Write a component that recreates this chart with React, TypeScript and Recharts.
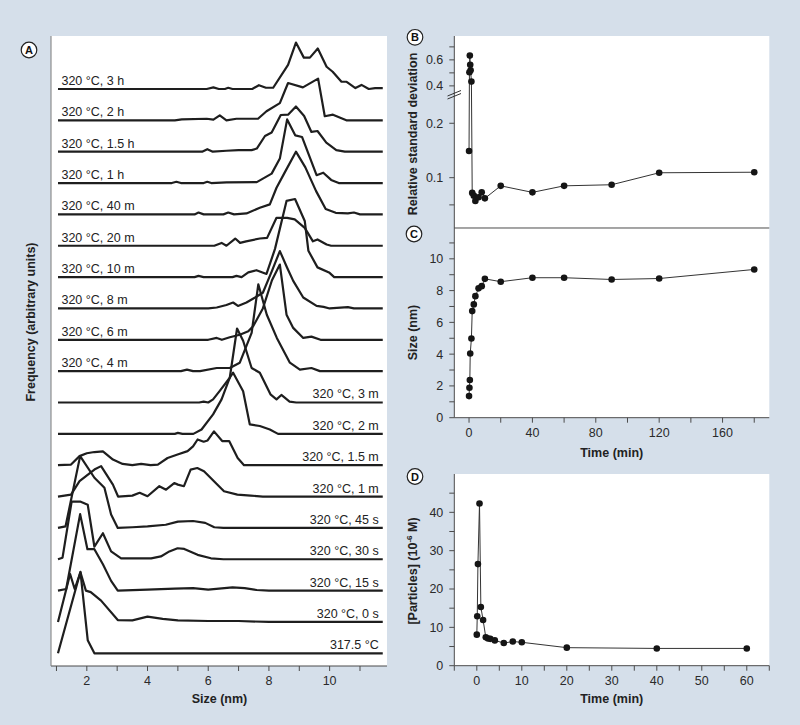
import React from 'react';
import { LineChart, Line, XAxis, YAxis, CartesianGrid } from 'recharts';

const FONT = '"Liberation Sans", Arial, Helvetica, sans-serif';
const BG = '#d5dfea';
const INK = '#1e1e1e';
const AXIS = '#4a4a4a';

// ---------------- Panel A : size distributions ----------------
const labelsA = [
  '317.5 °C', '320 °C, 0 s', '320 °C, 15 s', '320 °C, 30 s', '320 °C, 45 s',
  '320 °C, 1 m', '320 °C, 1.5 m', '320 °C, 2 m', '320 °C, 3 m', '320 °C, 4 m',
  '320 °C, 6 m', '320 °C, 8 m', '320 °C, 10 m', '320 °C, 20 m', '320 °C, 40 m',
  '320 °C, 1 h', '320 °C, 1.5 h', '320 °C, 2 h', '320 °C, 3 h',
];

// [size (nm), frequency (arb.)]
const d3175: number[][] = [[1.05, 0], [1.79, 2.6], [2.03, 0.42], [2.25, 0], [11.75, 0]];
const d0s: number[][] = [[1.05, 0], [1.45, 1.53], [1.6, 1.05], [1.79, 1.58], [1.97, 1.0], [2.13, 0.95], [2.47, 0.68], [3.02, 0.06], [3.5, 0.05], [4.0, 0.17], [4.5, 0.1], [5.0, 0.05], [6.0, 0.03], [7.0, 0.03], [8.0, 0], [11.75, 0]];
const d15s: number[][] = [[1.05, 0], [1.32, 0.05], [1.78, 2.44], [2.02, 1.32], [2.25, 1.32], [2.53, 0.84], [2.8, 0.31], [3.02, 0], [4.0, 0.03], [4.9, 0.06], [5.5, 0.08], [6.0, 0.03], [6.8, 0.1], [7.2, 0.08], [7.6, 0.02], [8.0, 0], [11.75, 0]];
const d30s: number[][] = [[1.05, 0], [1.2, 0.05], [1.5, 1.84], [1.78, 1.84], [2.03, 1.74], [2.25, 0.4], [2.53, 0.83], [2.8, 0.25], [3.13, 0.03], [4.12, 0.03], [4.44, 0.09], [4.72, 0.25], [4.99, 0.35], [5.21, 0.33], [5.65, 0.14], [6.09, 0.03], [6.5, 0], [11.75, 0]];
const d45s: number[][] = [[1.05, 0], [1.3, 0.05], [1.78, 2.29], [2.25, 1.6], [2.58, 1.28], [2.8, 0.43], [3.02, 0], [3.5, 0.02], [4.0, 0.05], [4.6, 0.1], [5.0, 0.2], [5.5, 0.22], [5.9, 0.16], [6.2, 0.02], [6.5, 0], [11.75, 0]];
const d1m: number[][] = [[1.05, 0], [1.48, 0.06], [1.76, 0.49], [2.25, 0.86], [2.47, 0.97], [2.86, 0.38], [3.03, 0], [3.5, 0.03], [3.74, 0.12], [4.0, 0.01], [4.39, 0.33], [4.61, 0.22], [4.88, 0.43], [5.0, 0.38], [5.2, 0.33], [5.42, 0.86], [5.64, 0.91], [5.86, 0.81], [6.19, 0.49], [6.52, 0.17], [6.96, 0.06], [7.4, 0.03], [7.8, 0], [11.75, 0]];
const d15m: number[][] = [[1.05, 0], [1.48, 0.02], [1.76, 0.29], [2.0, 0.38], [2.25, 0.42], [2.53, 0.44], [2.86, 0.18], [3.18, 0.04], [3.5, 0], [3.79, 0.04], [4.1, 0], [4.34, 0.02], [4.66, 0.23], [4.99, 0.34], [5.32, 0.45], [5.5, 0.6], [5.65, 0.82], [5.85, 0.75], [5.98, 0.79], [6.19, 1.08], [6.46, 0.77], [6.69, 0.77], [6.97, 0.23], [7.18, 0], [11.75, 0]];
const d2m: number[][] = [[1.05, 0], [4.9, 0], [5.0, 0.03], [5.15, 0], [5.51, 0], [5.78, 0.14], [6.16, 0.62], [6.44, 1.1], [6.71, 1.79], [6.82, 1.95], [7.15, 1.36], [7.37, 0.3], [7.7, 0.25], [8.03, 0.14], [8.3, 0], [11.75, 0]];
const d3m: number[][] = [[1.05, 0], [5.7, 0], [5.85, 0.03], [6.0, 0], [6.16, 0.1], [6.38, 0.37], [6.71, 0.79], [6.95, 2.36], [7.15, 1.97], [7.43, 1.1], [7.7, 0.95], [8.05, 0.26], [8.25, 0.1], [8.41, 0.24], [8.68, 0.03], [8.9, 0], [11.75, 0]];
const d4m: number[][] = [[1.05, 0], [5.1, 0], [5.3, 0.05], [5.5, 0], [5.73, 0], [6.28, 0.1], [6.71, 0.1], [7.04, 0.27], [7.43, 1.22], [7.65, 2.77], [7.93, 1.8], [8.26, 1.06], [8.69, 0.27], [9.02, 0.05], [9.4, 0.1], [9.68, 0], [11.75, 0]];
const d6m: number[][] = [[1.05, 0], [6.0, 0], [6.28, 0.06], [6.45, 0], [6.71, 0.08], [7.04, 0.16], [7.32, 0.27], [7.48, 0.43], [7.8, 1.0], [8.1, 1.9], [8.36, 2.4], [8.58, 0.8], [8.8, 0.38], [9.13, 0.06], [9.4, 0.1], [9.7, 0], [11.75, 0]];
const d8m: number[][] = [[1.05, 0], [6.0, 0], [6.28, 0.03], [6.6, 0.11], [6.82, 0.19], [6.98, 0.08], [7.26, 0.19], [7.53, 0.34], [7.8, 0.5], [8.1, 1.2], [8.36, 1.83], [8.6, 1.3], [8.8, 0.88], [9.13, 0.35], [9.57, 0.08], [9.8, 0.05], [10.0, 0], [10.6, 0.04], [10.8, 0], [11.75, 0]];
const d10m: number[][] = [[1.05, 0], [5.55, 0], [5.68, 0.04], [5.85, 0], [6.8, 0], [6.93, 0.04], [7.1, 0], [7.32, 0.15], [7.59, 0.22], [7.92, 0.1], [8.2, 0.9], [8.58, 2.43], [8.86, 2.49], [9.18, 1.79], [9.3, 0.84], [9.6, 0.31], [9.98, 0.15], [10.15, 0], [11.75, 0]];
const d20m: number[][] = [[1.05, 0], [6.2, 0], [6.44, 0.09], [6.6, 0], [6.89, 0.23], [7.05, 0.09], [7.25, 0.14], [7.7, 0.23], [7.94, 0.25], [8.25, 0.89], [8.6, 0.89], [8.85, 0.84], [9.18, 0.57], [9.45, 0.14], [9.6, 0.2], [9.9, 0.04], [10.05, 0], [11.75, 0]];
const d40m: number[][] = [[1.05, 0], [5.55, 0], [5.68, 0.06], [5.85, 0], [6.5, 0], [6.66, 0.06], [6.85, 0], [7.26, 0.03], [7.7, 0.21], [8.03, 0.32], [8.25, 0.85], [8.5, 1.3], [8.89, 2.0], [9.2, 1.5], [9.55, 0.75], [9.87, 0.17], [10.2, 0.05], [10.6, 0.03], [10.8, 0.06], [11.0, 0], [11.75, 0]];
const d1h: number[][] = [[1.05, 0], [4.8, 0], [4.95, 0.04], [5.1, 0], [5.85, 0], [5.97, 0.04], [6.1, 0], [6.6, 0.02], [7.6, 0.03], [8.09, 0.3], [8.36, 0.78], [8.6, 2.03], [8.87, 1.52], [9.09, 1.47], [9.57, 0.25], [9.79, 0.33], [10.05, 0.1], [10.3, 0], [11.75, 0]];
const d15h: number[][] = [[1.05, 0], [5.8, 0], [5.97, 0.08], [6.15, 0], [6.6, 0.03], [7.0, 0.05], [7.43, 0.05], [7.6, 0.1], [7.87, 0.5], [8.09, 0.61], [8.39, 1.17], [8.63, 1.18], [8.89, 1.44], [9.16, 1.14], [9.4, 0.63], [9.6, 0.66], [9.89, 0.29], [10.22, 0.05], [10.5, 0], [11.75, 0]];
const d2h: number[][] = [[1.05, 0], [4.9, 0], [5.13, 0.03], [5.95, 0.05], [6.17, 0.02], [6.38, 0.16], [6.6, 0], [6.93, 0.05], [7.64, 0.05], [7.92, 0.29], [8.36, 0.55], [8.63, 1.19], [9.12, 1.05], [9.62, 1.33], [9.84, 0.13], [10.11, 0.18], [10.55, 0], [11.75, 0]];
const d3h: number[][] = [[1.05, 0], [5.95, 0], [6.17, 0.05], [6.35, 0], [6.55, 0], [6.66, 0.04], [6.8, 0], [7.45, 0], [7.67, 0.12], [7.9, 0.04], [8.14, 0.04], [8.63, 0.77], [8.89, 1.48], [9.15, 1.0], [9.35, 1.0], [9.61, 1.29], [9.9, 0.71], [10.1, 0.55], [10.39, 0.23], [10.56, 0.23], [10.85, 0.03], [11.05, 0.13], [11.29, 0], [11.5, 0.03], [11.75, 0.03]];

const curvesA = [d3175, d0s, d15s, d30s, d45s, d1m, d15m, d2m, d3m, d4m, d6m, d8m, d10m, d20m, d40m, d1h, d15h, d2h, d3h];
const sizeTicks = [1, 2, 3, 4, 5, 6, 7, 8, 9, 10, 11];

// ---------------- Panel B : relative standard deviation ----------------
const rsdTimes = [0, 0.25, 0.5, 0.75, 1, 1.5, 2, 3, 4, 6, 8, 10, 20, 40, 60, 90, 120, 180];
const rsdValues = [0.149, 0.505, 0.633, 0.562, 0.52, 0.433, 0.072, 0.067, 0.057, 0.064, 0.073, 0.062, 0.085, 0.073, 0.085, 0.087, 0.109, 0.11];
const rsdTickValues = [0.05, 0.1, 0.2, 0.4, 0.5, 0.6, 0.7];
const rsdTickLabels = ['', '0.1', '0.2', '0.4', '', '0.6', ''];
const breakLow = 0.252;
const breakHigh = 0.33;
const upperScale = 130 / 544;
const squash = (v: number) => (v <= breakLow ? v : breakLow + (v - breakHigh) * upperScale);

// ---------------- Panel C : mean size ----------------
const sizeTimes = [0, 0.25, 0.5, 0.75, 1.5, 2, 3, 4, 6, 8, 10, 20, 40, 60, 90, 120, 180];
const sizeValues = [1.36, 1.88, 2.37, 4.04, 4.98, 6.71, 7.13, 7.65, 8.14, 8.28, 8.74, 8.56, 8.81, 8.81, 8.7, 8.76, 9.33];
const timeTicksLong = [0, 20, 40, 60, 80, 100, 120, 140, 160, 180];
const sizeAxisTicks = [0, 1, 2, 3, 4, 5, 6, 7, 8, 9, 10, 11];

// ---------------- Panel D : particle concentration ----------------
const concTimes = [0, 0.1, 0.25, 0.6, 0.9, 1.4, 2, 2.5, 3, 4, 6, 8, 10, 20, 40, 60];
const concValues = [8.1, 12.9, 26.5, 42.3, 15.3, 11.9, 7.4, 7.1, 7.0, 6.6, 5.9, 6.3, 6.1, 4.7, 4.5, 4.5];
const timeTicksShort = [-5, 0, 5, 10, 15, 20, 25, 30, 35, 40, 45, 50, 55, 60, 65];
const concAxisTicks = [0, 5, 10, 15, 20, 25, 30, 35, 40, 45];

const tickStyle = { fontSize: 12.5, fill: '#2a2a2a', fontFamily: FONT };

const makeCurveLabel = (text: string, side: 'left' | 'right', last: number) => (props: any) => {
  const { index } = props;
  const x = props.x ?? props.viewBox?.x;
  const y = props.y ?? props.viewBox?.y;
  if (side === 'left' && index !== 0) return null;
  if (side === 'right' && index !== last) return null;
  return (
    <text
      key={`lab-${text}`}
      x={side === 'left' ? x + 3.5 : x - 4}
      y={y - 4}
      textAnchor={side === 'left' ? 'start' : 'end'}
      fontSize={12.5}
      fontFamily={FONT}
      fill="#222"
    >
      {text}
    </text>
  );
};

const Circled = ({ cx, cy, letter }: { cx: number; cy: number; letter: string }) => (
  <g>
    <circle cx={cx} cy={cy} r={7.8} fill="#fff" stroke="#222" strokeWidth={1.2} />
    <text x={cx} y={cy + 4} textAnchor="middle" fontSize={11} fontWeight="bold" fontFamily={FONT} fill="#111">
      {letter}
    </text>
  </g>
);

const Title = ({ x, y, text, rotate }: { x: number; y: number; text: React.ReactNode; rotate?: boolean }) => (
  <text
    x={x}
    y={y}
    textAnchor="middle"
    dominantBaseline="central"
    fontSize={12.5}
    fontWeight="bold"
    fontFamily={FONT}
    fill="#222"
    transform={rotate ? `rotate(-90 ${x} ${y})` : undefined}
  >
    {text}
  </text>
);

export default function App() {
  const rsdData = rsdTimes.map((t, i) => ({ t, d: squash(rsdValues[i]) }));
  const sizeData = sizeTimes.map((t, i) => ({ t, s: sizeValues[i] }));
  const concData = concTimes.map((t, i) => ({ t, c: concValues[i] }));
  const rsdTicks = rsdTickValues.map(squash);

  return (
    <div
      style={{
        position: 'absolute',
        left: 0,
        top: 0,
        width: 800,
        height: 725,
        background: BG,
        overflow: 'hidden',
        fontFamily: FONT,
      }}
    >
      {/* Panel A */}
      <div style={{ position: 'absolute', left: 0, top: 0 }}>
        <LineChart width={400} height={725} margin={{ top: 36, right: 13, bottom: 29, left: 50 }}>
          <CartesianGrid fill="#fff" horizontal={false} vertical={false} />
          <XAxis
            type="number"
            dataKey="x"
            domain={[0.82, 11.89]}
            ticks={sizeTicks}
            allowDataOverflow
            height={30}
            tickSize={5}
            tickMargin={5}
            tickFormatter={(v: number) => (v % 2 === 0 ? String(v) : '')}
            axisLine={{ stroke: AXIS }}
            tickLine={{ stroke: AXIS }}
            tick={tickStyle}
          />
          <YAxis
            type="number"
            domain={[-0.405, 19.69]}
            allowDataOverflow
            width={1}
            tick={false}
            tickLine={false}
            axisLine={{ stroke: '#7a7a7a' }}
          />
          {curvesA.map((pts, i) => {
            const data = pts.map(([x, h]) => ({ x, y: i + h }));
            const side = i <= 8 ? 'right' : 'left';
            return (
              <Line
                key={labelsA[i]}
                data={data}
                dataKey="y"
                type="linear"
                stroke={INK}
                strokeWidth={2.2}
                strokeLinejoin="round"
                dot={false}
                activeDot={false}
                isAnimationActive={false}
                label={makeCurveLabel(labelsA[i], side, data.length - 1)}
              />
            );
          })}
        </LineChart>
      </div>

      {/* Panel B */}
      <div style={{ position: 'absolute', left: 400, top: 0 }}>
        <LineChart width={400} height={228} data={rsdData} margin={{ top: 36, right: 30.7, bottom: 0, left: 14.3 }}>
          <CartesianGrid fill="#fff" horizontal={false} vertical={false} />
          <XAxis type="number" dataKey="t" domain={[-9.3, 189.5]} hide allowDataOverflow />
          <YAxis
            type="number"
            domain={[0.0075, 0.3604]}
            allowDataOverflow
            ticks={rsdTicks}
            width={40}
            tickSize={5}
            tickMargin={6}
            tickFormatter={(v: number) => {
              const k = rsdTicks.findIndex((t) => Math.abs(t - v) < 1e-6);
              return k >= 0 ? rsdTickLabels[k] : '';
            }}
            axisLine={{ stroke: AXIS }}
            tickLine={{ stroke: AXIS }}
            tick={tickStyle}
          />
          <Line
            dataKey="d"
            type="linear"
            stroke="#333"
            strokeWidth={1}
            dot={{ r: 3.3, fill: '#151515', stroke: 'none' }}
            activeDot={false}
            isAnimationActive={false}
          />
        </LineChart>
      </div>

      {/* Panel C */}
      <div style={{ position: 'absolute', left: 400, top: 218 }}>
        <LineChart width={400} height={229.7} data={sizeData} margin={{ top: 0, right: 30.7, bottom: 0, left: 14.3 }}>
          <CartesianGrid fill="#fff" horizontal={false} vertical={false} />
          <XAxis
            xAxisId="top"
            orientation="top"
            type="number"
            dataKey="t"
            domain={[-9.3, 189.5]}
            allowDataOverflow
            ticks={timeTicksLong}
            height={10}
            tickSize={5}
            tick={false}
            axisLine={{ stroke: AXIS }}
            tickLine={{ stroke: AXIS }}
          />
          <XAxis
            xAxisId="bottom"
            orientation="bottom"
            type="number"
            dataKey="t"
            domain={[-9.3, 189.5]}
            allowDataOverflow
            ticks={timeTicksLong}
            height={30}
            tickSize={5}
            tickMargin={5}
            tickFormatter={(v: number) => (v % 40 === 0 ? String(v) : '')}
            axisLine={{ stroke: AXIS }}
            tickLine={{ stroke: AXIS }}
            tick={tickStyle}
          />
          <YAxis
            type="number"
            domain={[0, 11.94]}
            allowDataOverflow
            ticks={sizeAxisTicks}
            width={40}
            tickSize={5}
            tickMargin={6}
            tickFormatter={(v: number) => (v % 2 === 0 ? String(v) : '')}
            axisLine={{ stroke: AXIS }}
            tickLine={{ stroke: AXIS }}
            tick={tickStyle}
          />
          <Line
            xAxisId="bottom"
            dataKey="s"
            type="linear"
            stroke="#333"
            strokeWidth={1}
            dot={{ r: 3.3, fill: '#151515', stroke: 'none' }}
            activeDot={false}
            isAnimationActive={false}
          />
        </LineChart>
      </div>

      {/* Panel D */}
      <div style={{ position: 'absolute', left: 400, top: 464.3 }}>
        <LineChart width={400} height={231.7} data={concData} margin={{ top: 10, right: 30.7, bottom: 0, left: 14.3 }}>
          <CartesianGrid fill="#fff" horizontal={false} vertical={false} />
          <XAxis
            type="number"
            dataKey="t"
            domain={[-5, 65]}
            allowDataOverflow
            ticks={timeTicksShort}
            height={30}
            tickSize={5}
            tickMargin={5}
            tickFormatter={(v: number) => (v % 10 === 0 && v >= 0 && v <= 60 ? String(v) : '')}
            axisLine={{ stroke: AXIS }}
            tickLine={{ stroke: AXIS }}
            tick={tickStyle}
          />
          <YAxis
            type="number"
            domain={[0, 50]}
            allowDataOverflow
            ticks={concAxisTicks}
            width={40}
            tickSize={5}
            tickMargin={6}
            tickFormatter={(v: number) => (v % 10 === 0 ? String(v) : '')}
            axisLine={{ stroke: AXIS }}
            tickLine={{ stroke: AXIS }}
            tick={tickStyle}
          />
          <Line
            dataKey="c"
            type="linear"
            stroke="#333"
            strokeWidth={1}
            dot={{ r: 3.3, fill: '#151515', stroke: 'none' }}
            activeDot={false}
            isAnimationActive={false}
          />
        </LineChart>
      </div>

      {/* Overlay: panel letters, axis titles, axis break */}
      <svg width={800} height={725} style={{ position: 'absolute', left: 0, top: 0, pointerEvents: 'none' }}>
        <Circled cx={29} cy={50} letter="A" />
        <Circled cx={415} cy={37.3} letter="B" />
        <Circled cx={414} cy={234} letter="C" />
        <Circled cx={415} cy={476.5} letter="D" />

        <Title x={31} y={322} text="Frequency (arbitrary units)" rotate />
        <Title x={219.5} y={699} text="Size (nm)" />
        <Title x={413} y={134} text="Relative standard deviation" rotate />
        <Title x={413} y={332.5} text="Size (nm)" rotate />
        <Title x={611.7} y={453} text="Time (min)" />
        <Title x={413} y={571} rotate text={<>[Particles] (10<tspan dy={-4} fontSize={8}>-6</tspan><tspan dy={4}> M)</tspan></>} />
        <Title x={611.7} y={699} text="Time (min)" />

        <line x1={447.5} y1={96} x2={461} y2={90.5} stroke="#333" strokeWidth={1} />
        <line x1={447.5} y1={99} x2={461} y2={93.5} stroke="#333" strokeWidth={1} />
      </svg>
    </div>
  );
}
